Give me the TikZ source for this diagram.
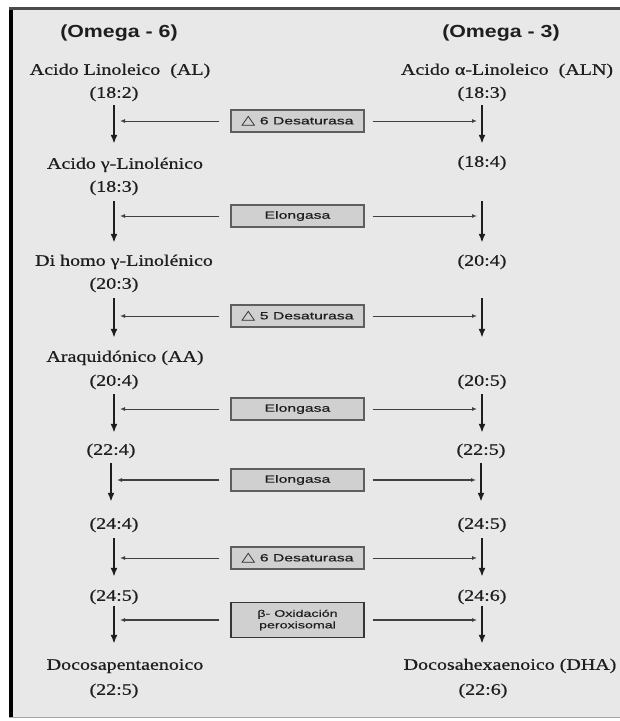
\documentclass[tikz,border=0pt]{standalone}
\usepackage{fontspec}
\setmainfont{Liberation Serif}
\newfontfamily\srf[FakeStretch=1.25,FakeBold=0.7]{Liberation Serif}
\newfontfamily\hdr[FakeStretch=1.22]{Liberation Sans}
\newfontfamily\enz[FakeStretch=1.5,FakeBold=0.5]{Liberation Sans}
\newfontfamily\dvs[FakeStretch=1.4]{DejaVu Sans}
\usetikzlibrary{arrows.meta,calc}
\definecolor{bgc}{HTML}{E8E8E8}
\definecolor{boxc}{HTML}{D0D0D0}
\definecolor{boxd}{HTML}{5E5E5E}
\definecolor{ink}{HTML}{1E1E1E}
\newcommand{\tri}{{\dvs\fontsize{13}{13}\selectfont △}}
\begin{document}
\begin{tikzpicture}[x=1pt,y=-1pt,
  lbl/.style={inner sep=0pt, text height=11pt, text depth=3.5pt, font=\srf\fontsize{16}{18}\selectfont, text=ink},
  hd/.style={inner sep=0pt, font=\hdr\bfseries\fontsize{17.5}{20}\selectfont, text=ink},
  enzbox/.style={draw=boxd, fill=boxc, line width=1.1pt, minimum width=133pt, minimum height=22pt, inner sep=0pt, font=\enz\fontsize{10.5}{12}\selectfont, text=ink},
  varrow/.style={draw=ink, line width=1.8pt, -{Latex[length=9pt,width=7pt]}},
  harrow/.style={draw=ink!85, line width=1pt, -{Latex[length=5pt,width=4pt]}},
  harrowb/.style={harrow, line width=1.6pt},
]
\path[use as bounding box] (0,0) rectangle (620,721);
\fill[white] (0,0) rectangle (620,721);
\fill[bgc] (9,9) rectangle (620,717);
\draw[black, line width=4pt] (10.5,7.5) -- (10.5,717);
\draw[ink!80, line width=2.5pt] (9,8.5) -- (620,8.5);
\draw[gray!70, line width=1.2pt] (9,717.5) -- (620,717.5);

% headers
\node[hd] (om6) at (119,33) {(Omega - 6)};
\node[hd] (om3) at (501,33) {(Omega - 3)};

% left column
\node[lbl] (la1) at (120,71) {Acido Linoleico~ (AL)};
\node[lbl] (ln1) at (114,94) {(18:2)};
\node[lbl] (la2) at (125,165) {Acido γ-Linolénico};
\node[lbl] (ln2) at (114,188) {(18:3)};
\node[lbl] (la3) at (124,262) {Di homo γ-Linolénico};
\node[lbl] (ln3) at (114,285) {(20:3)};
\node[lbl] (la4) at (125,358) {Araquidónico (AA)};
\node[lbl] (ln4) at (114,382) {(20:4)};
\node[lbl] (ln5) at (111,451) {(22:4)};
\node[lbl] (ln6) at (114,525) {(24:4)};
\node[lbl] (ln7) at (114,597) {(24:5)};
\node[lbl] (la8) at (125,666) {Docosapentaenoico};
\node[lbl] (ln8) at (114,691) {(22:5)};

% right column
\node[lbl] (ra1) at (507,71) {Acido α-Linoleico~ (ALN)};
\node[lbl] (rn1) at (482,94) {(18:3)};
\node[lbl] (rn2) at (482,163) {(18:4)};
\node[lbl] (rn3) at (482,262) {(20:4)};
\node[lbl] (rn4) at (482,382) {(20:5)};
\node[lbl] (rn5) at (481,451) {(22:5)};
\node[lbl] (rn6) at (482,525) {(24:5)};
\node[lbl] (rn7) at (482,597) {(24:6)};
\node[lbl] (ra8) at (510,666) {Docosahexaenoico (DHA)};
\node[lbl] (rn8) at (483,691) {(22:6)};

% enzymes
\node[enzbox] (e1) at (297.5,121) {\tri\ 6 Desaturasa};
\node[enzbox] (e2) at (297.5,216) {Elongasa};
\node[enzbox] (e3) at (297.5,316) {\tri\ 5 Desaturasa};
\node[enzbox] (e4) at (297.5,409) {Elongasa};
\node[enzbox] (e5) at (297.5,480) {Elongasa};
\node[enzbox] (e6) at (297.5,558) {\tri\ 6 Desaturasa};
\node[enzbox, minimum height=35pt, align=center, font=\enz\fontsize{9.5}{11.5}\selectfont, draw=ink!90, line width=1.4pt] (e7) at (297.5,620) {β- Oxidación\\peroxisomal};

% vertical arrows, left
\draw[varrow] ($(ln1.south)+(0,3.75)$) -- ($(ln1.south |- la2.north)+(0,-13.75)$);
\draw[varrow] ($(ln2.south)+(0,5.75)$) -- ($(ln2.south |- la3.north)+(0,-11.75)$);
\draw[varrow] ($(ln3.south)+(0,5.75)$) -- ($(ln3.south |- la4.north)+(0,-12.75)$);
\draw[varrow] ($(ln4.south)+(0,4.75)$) -- ($(ln4.south |- ln5.north)+(0,-10.75)$);
\draw[varrow] ($(ln5.south)+(0,4.75)$) -- ($(ln5.south |- ln6.north)+(0,-15.75)$);
\draw[varrow] ($(ln6.south)+(0,5.75)$) -- ($(ln6.south |- ln7.north)+(0,-12.75)$);
\draw[varrow] ($(ln7.south)+(0,1.75)$) -- ($(ln7.south |- la8.north)+(0,-14.75)$);

% vertical arrows, right
\draw[varrow] ($(rn1.south)+(0,3.75)$) -- ($(rn1.south |- rn2.north)+(0,-11.75)$);
\draw[varrow] ($(rn2.south)+(0,30.75)$) -- ($(rn2.south |- rn3.north)+(0,-11.75)$);
\draw[varrow] ($(rn3.south)+(0,28.75)$) -- ($(rn3.south |- rn4.north)+(0,-36.75)$);
\draw[varrow] ($(rn4.south)+(0,4.75)$) -- ($(rn4.south |- rn5.north)+(0,-10.75)$);
\draw[varrow] ($(rn5.south)+(0,4.75)$) -- ($(rn5.south |- rn6.north)+(0,-15.75)$);
\draw[varrow] ($(rn6.south)+(0,5.75)$) -- ($(rn6.south |- rn7.north)+(0,-12.75)$);
\draw[varrow] ($(rn7.south)+(0,1.75)$) -- ($(rn7.south |- ra8.north)+(0,-14.75)$);

% horizontal arrows
\draw[harrow]  ($(e1.west)+(-11,0)$) -- ($(e1.west -| ln1.south)+(6,0)$);
\draw[harrow]  ($(e1.east)+(8,0)$) -- ($(e1.east -| rn1.south)+(-5,0)$);
\draw[harrow]  ($(e2.west)+(-11,0)$) -- ($(e2.west -| ln2.south)+(6,0)$);
\draw[harrow]  ($(e2.east)+(8,0)$) -- ($(e2.east -| rn2.south)+(-5,0)$);
\draw[harrow]  ($(e3.west)+(-11,0)$) -- ($(e3.west -| ln3.south)+(6,0)$);
\draw[harrow]  ($(e3.east)+(8,0)$) -- ($(e3.east -| rn3.south)+(-5,0)$);
\draw[harrow]  ($(e4.west)+(-11,0)$) -- ($(e4.west -| ln4.south)+(6,0)$);
\draw[harrow]  ($(e4.east)+(8,0)$) -- ($(e4.east -| rn4.south)+(-5,0)$);
\draw[harrowb] ($(e5.west)+(-11,0)$) -- ($(e5.west -| ln5.south)+(6,0)$);
\draw[harrowb] ($(e5.east)+(8,0)$) -- ($(e5.east -| rn5.south)+(-5,0)$);
\draw[harrow]  ($(e6.west)+(-11,0)$) -- ($(e6.west -| ln6.south)+(6,0)$);
\draw[harrow]  ($(e6.east)+(8,0)$) -- ($(e6.east -| rn6.south)+(-5,0)$);
\draw[harrowb] ($(e7.west)+(-11,0)$) -- ($(e7.west -| ln7.south)+(6,0)$);
\draw[harrowb] ($(e7.east)+(8,0)$) -- ($(e7.east -| rn7.south)+(-5,0)$);
\end{tikzpicture}
\end{document}
